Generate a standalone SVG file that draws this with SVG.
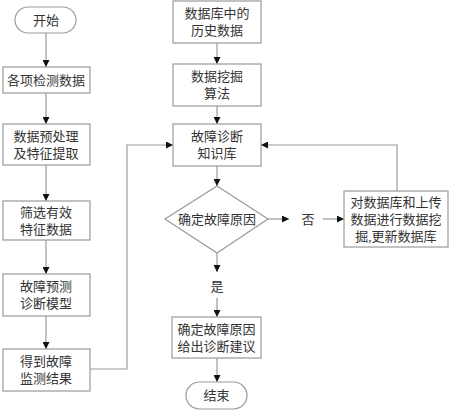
<svg xmlns="http://www.w3.org/2000/svg" width="450" height="411" viewBox="0 0 450 411">
<style>
.b{fill:#fff;stroke:#9a9a9a;stroke-width:1.2}
.c{fill:none;stroke:#9a9a9a;stroke-width:1.2}
.t{font-family:"Liberation Serif","Noto Sans CJK SC",serif;font-size:13px;fill:#333;text-anchor:middle;dominant-baseline:central}
</style>
<defs>
<marker id="a" viewBox="0 0 10 10" refX="10" refY="5" markerWidth="7" markerHeight="7" markerUnits="userSpaceOnUse" orient="auto">
<path d="M0,0L10,5L0,10z" fill="#111"/>
</marker>
</defs>
<rect width="450" height="411" fill="#fff"/>
<g id="connectors">
<line class="c" x1="46" y1="33" x2="46" y2="67" marker-end="url(#a)"/>
<line class="c" x1="46" y1="93" x2="46" y2="124" marker-end="url(#a)"/>
<line class="c" x1="46" y1="165" x2="46" y2="201" marker-end="url(#a)"/>
<line class="c" x1="46" y1="240" x2="46" y2="274" marker-end="url(#a)"/>
<line class="c" x1="46" y1="316" x2="46" y2="349" marker-end="url(#a)"/>
<polyline class="c" points="90,369 127,369 127,145 173,145" marker-end="url(#a)"/>
<line class="c" x1="217" y1="43" x2="217" y2="64" marker-end="url(#a)"/>
<line class="c" x1="217" y1="106" x2="217" y2="124" marker-end="url(#a)"/>
<line class="c" x1="217" y1="166" x2="217" y2="186" marker-end="url(#a)"/>
<line class="c" x1="268" y1="219" x2="289" y2="219" marker-end="url(#a)"/>
<line class="c" x1="323" y1="219" x2="344" y2="219" marker-end="url(#a)"/>
<polyline class="c" points="397,191 397,145 261,145" marker-end="url(#a)"/>
<line class="c" x1="217" y1="253" x2="217" y2="272" marker-end="url(#a)"/>
<line class="c" x1="217" y1="298" x2="217" y2="317" marker-end="url(#a)"/>
<line class="c" x1="217" y1="358" x2="217" y2="382" marker-end="url(#a)"/>
<text class="t" x="308" y="219">否</text>
<text class="t" x="217" y="286">是</text>
</g>
<g id="start"><rect class="b" x="15" y="7" width="61" height="26" rx="13"/><text class="t" x="46" y="20">开始</text></g>
<g id="n1"><rect class="b" x="3" y="67" width="87" height="26"/><text class="t" x="46" y="80">各项检测数据</text></g>
<g id="n2"><rect class="b" x="3" y="124" width="87" height="41"/><text class="t" x="46" y="136.5">数据预处理</text><text class="t" x="46" y="153.5">及特征提取</text></g>
<g id="n3"><rect class="b" x="3" y="201" width="87" height="39"/><text class="t" x="46" y="212">筛选有效</text><text class="t" x="46" y="229">特征数据</text></g>
<g id="n4"><rect class="b" x="3" y="274" width="87" height="42"/><text class="t" x="46" y="286.5">故障预测</text><text class="t" x="46" y="303.5">诊断模型</text></g>
<g id="n5"><rect class="b" x="3" y="349" width="87" height="42"/><text class="t" x="46" y="361.5">得到故障</text><text class="t" x="46" y="378.5">监测结果</text></g>
<g id="m1"><rect class="b" x="173" y="1" width="88" height="42"/><text class="t" x="217" y="13.5">数据库中的</text><text class="t" x="217" y="30.5">历史数据</text></g>
<g id="m2"><rect class="b" x="173" y="64" width="88" height="42"/><text class="t" x="217" y="76.5">数据挖掘</text><text class="t" x="217" y="93.5">算法</text></g>
<g id="m3"><rect class="b" x="173" y="124" width="88" height="42"/><text class="t" x="217" y="136.5">故障诊断</text><text class="t" x="217" y="153.5">知识库</text></g>
<g id="d"><polygon class="b" points="217,186 268,219 217,253 165,219"/><text class="t" x="217" y="219">确定故障原因</text></g>
<g id="r"><rect class="b" x="344" y="191" width="104" height="56"/><text class="t" x="396" y="202">对数据库和上传</text><text class="t" x="396" y="219">数据进行数据挖</text><text class="t" x="396" y="236">掘,更新数据库</text></g>
<g id="m4"><rect class="b" x="172" y="317" width="89" height="41"/><text class="t" x="216.5" y="329.5">确定故障原因</text><text class="t" x="216.5" y="346.5">给出诊断建议</text></g>
<g id="end"><rect class="b" x="186" y="382" width="61" height="27" rx="13.5"/><text class="t" x="216.5" y="395.5">结束</text></g>
</svg>
